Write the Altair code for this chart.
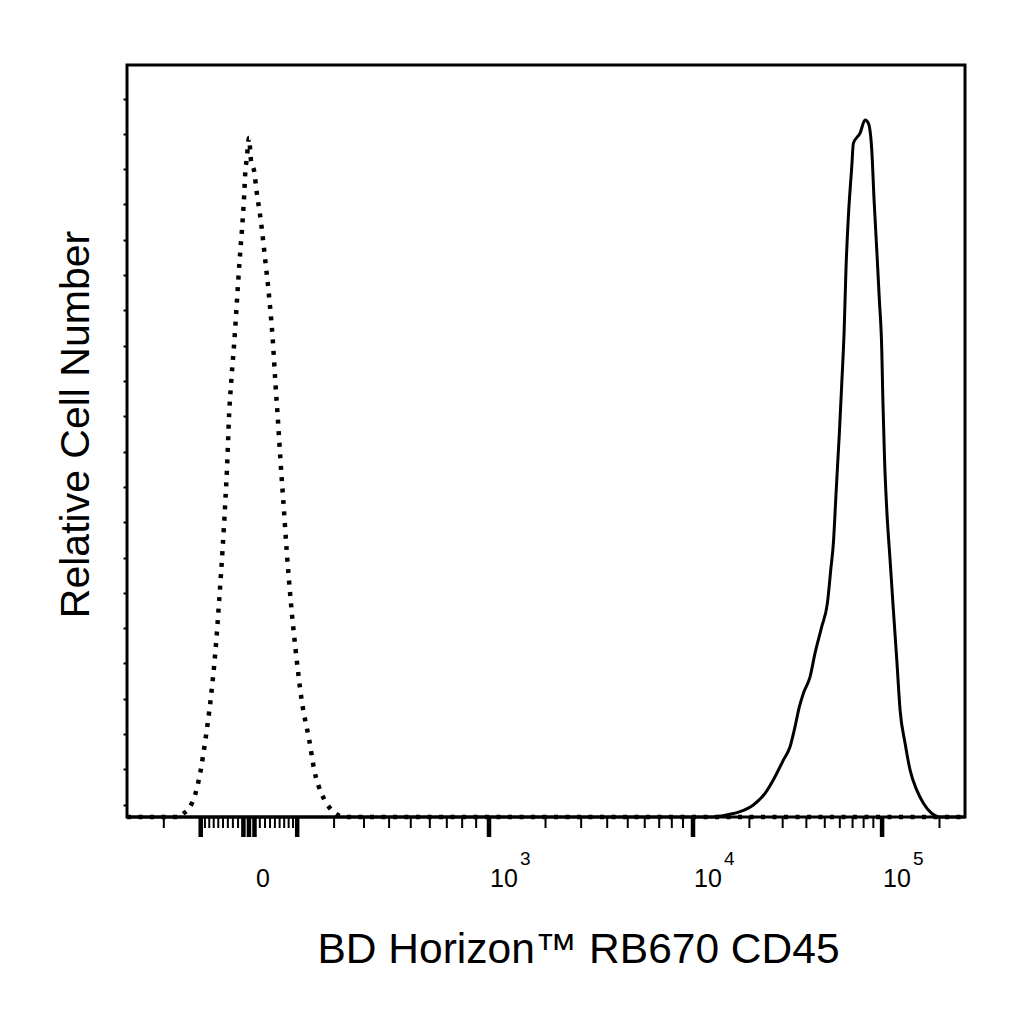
import altair as alt
import pandas as pd

# ---- data (fluorescence units, relative counts) ----
iso_x = [-326, -153, -148, -129, -114, -100, -89, -77, -66, -58,
         -51, -45, -41, -38, -33, -27, -22, -17, -11.4, -8.1,
         -6.6, -4.1, 0, 3.6, 9.6, 13.6, 21.7, 30.4, 38.8, 45.6,
         50.7, 56.4, 61.8, 67.9, 75.5, 84.6, 96.3, 110.9, 130.1, 143.4,
         165.3, 187.6, 211.8, 237.4, 272000]
iso_y = [0, 0, 0.6, 2.5, 6.2, 13.3, 21.8, 33.1, 47.3, 61.5,
         75.6, 89.8, 101.1, 112.4, 123.8, 135.1, 146.4, 157.8, 169.1, 177.6,
         182.7, 186.1, 192.3, 186.1, 182.7, 177.6, 169.1, 157.8, 146.4, 135.1,
         123.8, 112.4, 101.1, 89.8, 75.6, 61.5, 47.3, 33.1, 21.8, 13.3,
         6.2, 2.5, 0.6, 0, 0]

cd45_x = [-326, 12338, 15150, 17832, 20981, 24201, 27336, 30240, 32806, 34862,
          36730, 38558, 41826, 44439, 48202, 51588, 53758, 55476, 57323, 58586,
          59656, 61419, 63151, 64698, 66522, 69319, 70675, 76638, 81419, 84728,
          88285, 90773, 93790, 96782, 99627, 100957, 103049, 105840, 110138, 114620,
          119431, 124293, 132024, 140237, 152049, 164652, 182241, 201434, 272000]
cd45_y = [0, 0, 0.6, 1.5, 3.4, 6.7, 11.4, 16.1, 19.9, 25.6,
          31.2, 35.0, 39.7, 46.4, 53.9, 60.5, 70.0, 77.5, 91.7, 101.1,
          108.7, 122.8, 137.0, 155.9, 170.0, 184.2, 190.8, 193.7, 197.4, 196.5,
          188.9, 174.8, 160.6, 146.4, 132.3, 118.1, 101.1, 87.0, 72.8, 58.6,
          44.5, 30.3, 20.9, 13.3, 7.6, 3.9, 1.0, 0, 0]

major_ticks = [-100, -10, 0, 10, 100, 1000, 10000, 100000]
minor_ticks = [-200, -90, -80, -70, -60, -50, -40, -30, -20,
               20, 30, 40, 50, 60, 70, 80, 90,
               200, 300, 400, 500, 600, 700, 800, 900,
               2000, 3000, 4000, 5000, 6000, 7000, 8000, 9000,
               20000, 30000, 40000, 50000, 60000, 70000, 80000, 90000,
               200000]
label_values = [0, 1000, 10000, 100000]
label_base = ["0", "10", "10", "10"]
label_exp = ["", "3", "4", "5"]
y_ticks = [3.5, 13.5, 23.5, 33.5, 43.5, 53.5, 63.5, 73.5, 83.5, 93.5, 103.5,
           113.5, 123.5, 133.5, 143.5, 153.5, 163.5, 173.5, 183.5, 193.5, 203.5]

# ---- layout / style ----
W, H = 838, 752
FONT = "Liberation Sans"

iso_df = pd.DataFrame({"x": iso_x, "y": iso_y})
cd45_df = pd.DataFrame({"x": cd45_x, "y": cd45_y})
major_df = pd.DataFrame({"x": major_ticks})
minor_df = pd.DataFrame({"x": minor_ticks})
lab_df = pd.DataFrame({"x": label_values, "base": label_base, "exp": label_exp})

xscale = alt.Scale(type="symlog", constant=280,
                   domain=[-326, 1000, 10000, 272000],
                   range=[0, 362, 566, 838], nice=False, zero=False)
yscale = alt.Scale(domain=[0, 213], nice=False, zero=False)

xaxis = alt.Axis(title="BD Horizon™ RB670 CD45", labels=False, ticks=False,
                 domain=False, grid=False, titleFont=FONT, titleFontSize=42.5,
                 titleFontWeight="normal", titleColor="black",
                 titleX=451, titleY=145, titleAlign="center",
                 titleBaseline="alphabetic")
yaxis = alt.Axis(title="Relative Cell Number", values=y_ticks, labels=False,
                 domain=False, grid=False, tickSize=4, tickWidth=2,
                 tickColor="black", titleFont=FONT, titleFontSize=41,
                 titleFontWeight="normal", titleColor="black", titleAngle=270,
                 titleX=-39, titleY=359, titleAlign="center",
                 titleBaseline="alphabetic")

X = alt.X("x:Q", scale=xscale, axis=xaxis)
Y = alt.Y("y:Q", scale=yscale, axis=yaxis)

iso = alt.Chart(iso_df).mark_line(color="black", strokeWidth=4.5,
                                  strokeDash=[4, 7.5],
                                  interpolate="monotone").encode(x=X, y=Y)
cd45 = alt.Chart(cd45_df).mark_line(color="black", strokeWidth=3,
                                    interpolate="monotone").encode(x=X, y=Y)

tmajor = alt.Chart(major_df).mark_rule(color="black", strokeWidth=4.5).encode(
    x=X, y=alt.value(H), y2=alt.value(H + 20))
tminor = alt.Chart(minor_df).mark_rule(color="black", strokeWidth=2).encode(
    x=X, y=alt.value(H), y2=alt.value(H + 11))

lab_zero = alt.Chart(lab_df).transform_filter("datum.x == 0").mark_text(
    font=FONT, fontSize=25, align="left", baseline="alphabetic", dx=7,
    color="black").encode(x=X, y=alt.value(H + 70), text="base:N")
lab_pow = alt.Chart(lab_df).transform_filter("datum.x > 0").mark_text(
    font=FONT, fontSize=25, align="left", baseline="alphabetic", dx=1,
    color="black").encode(x=X, y=alt.value(H + 70), text="base:N")
lab_exp = alt.Chart(lab_df).transform_filter("datum.x > 0").mark_text(
    font=FONT, fontSize=19, align="left", baseline="alphabetic", dx=31,
    color="black").encode(x=X, y=alt.value(H + 48), text="exp:N")

chart = alt.layer(iso, cd45, tmajor, tminor, lab_zero, lab_pow, lab_exp).properties(
    width=W, height=H,
    autosize=alt.AutoSizeParams(type="none"),
    padding={"left": 119, "top": 57, "right": 40, "bottom": 180},
).configure_view(stroke="black", strokeWidth=3)

chart.save("out.html", embed_options={"renderer": "svg", "actions": False})
